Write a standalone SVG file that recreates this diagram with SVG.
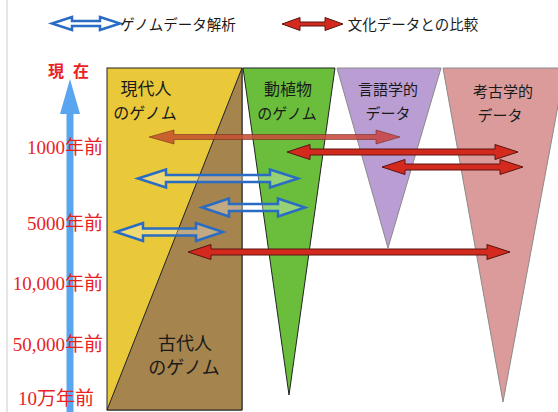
<svg xmlns="http://www.w3.org/2000/svg" width="558" height="412" viewBox="0 0 558 412">
<defs>
<style>
.jp{font-family:"Noto Sans CJK JP","Noto Sans CJK SC",sans-serif;fill:#1a1a1a;text-anchor:middle;dominant-baseline:central}
.lbl{font-family:"Liberation Serif","Noto Sans CJK JP",serif;fill:#e8231f;font-size:19px;text-anchor:end;dominant-baseline:central}
.red{fill:#d42a1e;stroke:#5a1410;stroke-width:1}
.blue{fill:#ffffff;fill-opacity:0.3;stroke:#2a6cc4;stroke-width:2.5;stroke-linejoin:miter}
</style>
<linearGradient id="g1" x1="0" x2="1" y1="0" y2="0">
<stop offset="0" stop-color="#c4552a"/>
<stop offset="1" stop-color="#c84545"/>
</linearGradient>
</defs>
<rect width="558" height="412" fill="#ffffff"/>
<line x1="7" y1="0" x2="7" y2="412" stroke="#dddddd" stroke-width="1.5"/>

<g id="legend">
<path class="blue" d="M52,23.5 L72,17 L72,21 L100,21 L100,17 L120,23.5 L100,30 L100,26 L72,26 L72,30 Z" stroke-width="2.2"/>
<text class="jp" x="178" y="23" font-size="14.5">ゲノムデータ解析</text>
<path class="red" d="M282,24 L300,17.5 L300,22 L325,22 L325,17.5 L343,24 L325,30.5 L325,26 L300,26 L300,30.5 Z" stroke-width="0.6"/>
<text class="jp" x="413" y="23" font-size="14.5">文化データとの比較</text>
</g>

<g id="axis">
<rect x="66.5" y="112" width="7" height="300" fill="#5aa5f0"/>
<polygon points="70,79 60,114 80,114" fill="#5aa5f0"/>
<text x="56" y="70" font-family="Noto Sans CJK JP,sans-serif" font-weight="bold" font-size="16" fill="#e8231f" text-anchor="middle" dominant-baseline="central">現</text>
<text x="81" y="70" font-family="Noto Sans CJK JP,sans-serif" font-weight="bold" font-size="16" fill="#e8231f" text-anchor="middle" dominant-baseline="central">在</text>
<text class="lbl" x="103" y="147">1000年前</text>
<text class="lbl" x="103" y="223">5000年前</text>
<text class="lbl" x="103" y="283">10,000年前</text>
<text class="lbl" x="103" y="344">50,000年前</text>
<text class="lbl" x="94" y="398">10万年前</text>
</g>

<g id="modern-genome">
<rect x="107" y="68" width="135" height="342" fill="#e9c93a" stroke="#222" stroke-width="1"/>
<text class="jp" x="146" y="87" font-size="17">現代人</text>
<text class="jp" x="145" y="112" font-size="16">のゲノム</text>
</g>
<g id="ancient-genome">
<polygon points="242,68 242,410 107,410" fill="#a5844e" stroke="#222" stroke-width="1"/>
<text class="jp" x="185" y="342" font-size="18">古代人</text>
<text class="jp" x="184" y="366" font-size="18">のゲノム</text>
</g>
<g id="plant-animal-genome">
<polygon points="243,68 335,68 289,395" fill="#6bbe3c" stroke="#222" stroke-width="1"/>
<text class="jp" x="288" y="88" font-size="16">動植物</text>
<text class="jp" x="287" y="112" font-size="15">のゲノム</text>
</g>
<g id="linguistic-data">
<polygon points="337,68 441,68 388,248" fill="#ba9dd3" stroke="#8a8a8a" stroke-width="1"/>
<text class="jp" x="388" y="88" font-size="15">言語学的</text>
<text class="jp" x="388" y="112" font-size="15">データ</text>
</g>
<g id="archaeological-data">
<polygon points="443,68 565,68 503,402" fill="#db9b9a" stroke="#8a8a8a" stroke-width="1"/>
<text class="jp" x="503" y="90" font-size="15">考古学的</text>
<text class="jp" x="500" y="114" font-size="15">データ</text>
</g>

<g id="connectors">
<path d="M149,137 L174,130 L174,134.5 L376,134.5 L376,130 L400,137 L376,144 L376,139.5 L174,139.5 L174,144 Z" fill="url(#g1)" fill-opacity="0.88" stroke="#6a2a18" stroke-width="0.8" stroke-opacity="0.7"/>
<path class="red" d="M287,152 L310,144.5 L310,149 L495,149 L495,144.5 L518,152 L495,159.5 L495,155 L310,155 L310,159.5 Z"/>
<path class="red" d="M382,167 L405,159.5 L405,164 L500,164 L500,159.5 L523,167 L500,174.5 L500,170 L405,170 L405,174.5 Z"/>
<path class="red" d="M188,252 L211,244.5 L211,249 L487,249 L487,244.5 L510,252 L487,259.5 L487,255 L211,255 L211,259.5 Z"/>
<path class="blue" d="M138,178.5 L166,169.5 L166,175 L270,175 L270,169.5 L298,178.5 L270,187.5 L270,182 L166,182 L166,187.5 Z"/>
<path class="blue" d="M202,207.5 L229,198.5 L229,204 L278,204 L278,198.5 L305,207.5 L278,216.5 L278,211 L229,211 L229,216.5 Z"/>
<path class="blue" d="M116,232 L143,223 L143,228.5 L196,228.5 L196,223 L223,232 L196,241 L196,235.5 L143,235.5 L143,241 Z"/>
</g>
</svg>
